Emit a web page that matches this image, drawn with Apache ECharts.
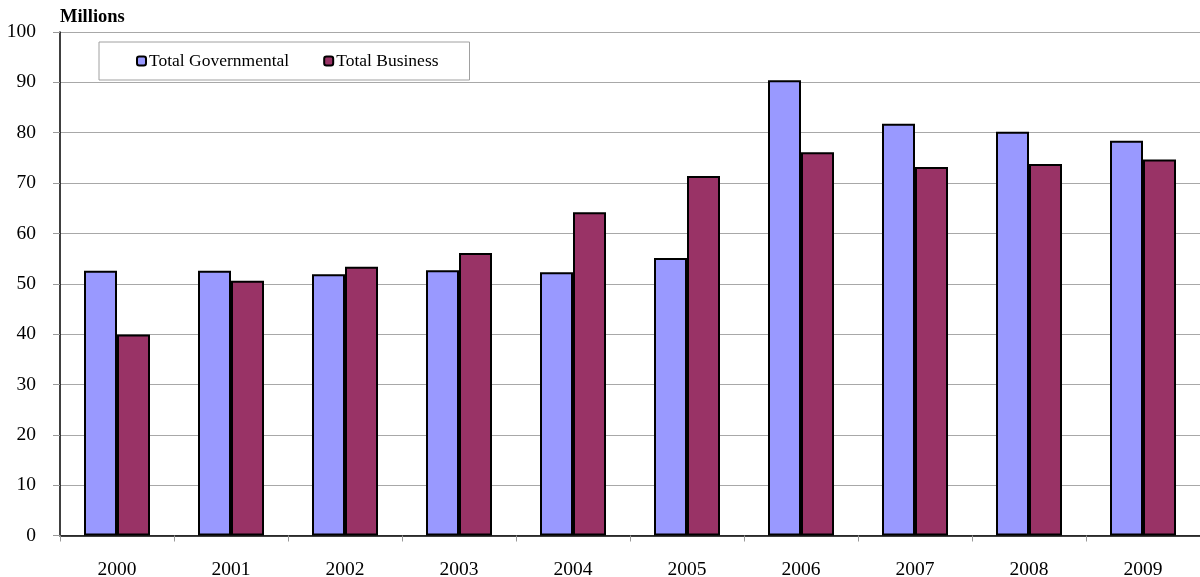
<!DOCTYPE html>
<html>
<head>
<meta charset="utf-8">
<script src="https://cdn.jsdelivr.net/npm/echarts@6/dist/echarts.min.js"></script>
<style>html,body{margin:0;padding:0;background:#fff}#c{width:1200px;height:577px}</style>
</head>
<body>
<div id="c"></div>
<script>
const categories = ['2000','2001','2002','2003','2004','2005','2006','2007','2008','2009'];
const governmental = [52.6, 52.6, 51.9, 52.7, 52.3, 55.1, 90.4, 81.8, 80.2, 78.4];
const business = [39.9, 50.6, 53.4, 56.1, 64.2, 71.4, 76.1, 73.2, 73.8, 74.7];
const seriesNames = ['Total Governmental', 'Total Business'];
const yTitle = 'Millions';

const font = '"Liberation Serif", "Times New Roman", serif';
const chart = echarts.init(document.getElementById('c'), null, {renderer: 'canvas'});
chart.setOption({
  animation: false,
  textStyle: {fontFamily: font},
  title: {
    text: yTitle, left: 60, top: 8, padding: 0,
    textStyle: {fontFamily: font, fontSize: 18.5, fontWeight: 'bold', color: '#000'}
  },
  legend: {
    left: 99, top: 42,
    padding: [10, 31, 10, 37],
    borderColor: '#a0a0a0', borderWidth: 1,
    backgroundColor: '#fff',
    itemWidth: 9, itemHeight: 9, itemGap: 34,
    textStyle: {fontFamily: font, fontSize: 17.5, color: '#000', padding: [0,0,0,-2]},
    data: seriesNames
  },
  grid: {left: 60, right: 0, top: 32, bottom: 41.5, containLabel: false, outerBoundsMode: 'none'},
  xAxis: {
    type: 'category', data: categories,
    axisLine: {lineStyle: {color: '#000', width: 1.5}},
    axisTick: {show: true, length: 6, lineStyle: {color: '#999'}},
    axisLabel: {fontFamily: font, fontSize: 19.5, color: '#000', margin: 24}
  },
  yAxis: {
    type: 'value', min: 0, max: 100, interval: 10,
    axisLine: {show: true, lineStyle: {color: '#000', width: 1.5}},
    axisTick: {show: true, length: 7, lineStyle: {color: '#999'}},
    axisLabel: {fontFamily: font, fontSize: 19.5, color: '#000', margin: 24},
    splitLine: {lineStyle: {color: '#a8a8a8', width: 1}}
  },
  series: [
    {name: seriesNames[0], type: 'bar', data: governmental, barWidth: 33, barGap: '0%',
     itemStyle: {color: '#9999ff', borderColor: '#000', borderWidth: 2}},
    {name: seriesNames[1], type: 'bar', data: business, barWidth: 33, barGap: '0%',
     itemStyle: {color: '#993366', borderColor: '#000', borderWidth: 2}}
  ]
});
</script>
</body>
</html>
